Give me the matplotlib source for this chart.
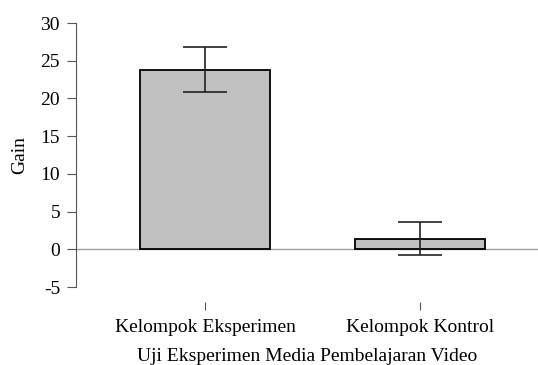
import matplotlib
matplotlib.use("Agg")
import matplotlib.pyplot as plt
import numpy as np

# --- Daten ---
kelompok = ["Kelompok Eksperimen", "Kelompok Kontrol"]
gain = [23.8, 1.4]
err = [3.0, 2.2]
yticks = [-5, 0, 5, 10, 15, 20, 25, 30]

plt.rcParams["font.family"] = ["Liberation Serif", "DejaVu Serif"]
plt.rcParams["font.size"] = 14
plt.rcParams["axes.unicode_minus"] = False

fig = plt.figure(figsize=(5.38, 3.65), dpi=100)
ax = fig.add_axes([76 / 538, 78 / 365, 462 / 538, 264 / 365])

x = np.arange(len(kelompok))
ax.axhline(0, color="#a0a0a0", lw=1.0, zorder=1)
ax.bar(x, gain, width=0.605, color="#c0c0c0", edgecolor="black", lw=1.3, zorder=2)
ax.errorbar(x, gain, yerr=err, fmt="none", ecolor="#222222", elinewidth=1.2,
            capsize=15.5, capthick=1.2, zorder=3)

ax.set_xlim(-0.6, 1.549)
ax.set_ylim(-5, 30)
ax.set_yticks(yticks)
ax.set_xticks(x)
ax.set_xticklabels(kelompok)

for s in ["top", "right"]:
    ax.spines[s].set_visible(False)
ax.spines["bottom"].set_position(("outward", 11))
ax.spines["bottom"].set_color("none")
ax.spines["left"].set_color("#555555")
ax.tick_params(axis="y", length=6.5, color="#555555", pad=5)
ax.tick_params(axis="x", length=6, color="#555555", pad=6)

ax.set_ylabel("Gain", labelpad=9)
ax.set_xlabel("Uji Eksperimen Media Pembelajaran Video", labelpad=8.5)

fig.savefig("out.png", dpi=100)
